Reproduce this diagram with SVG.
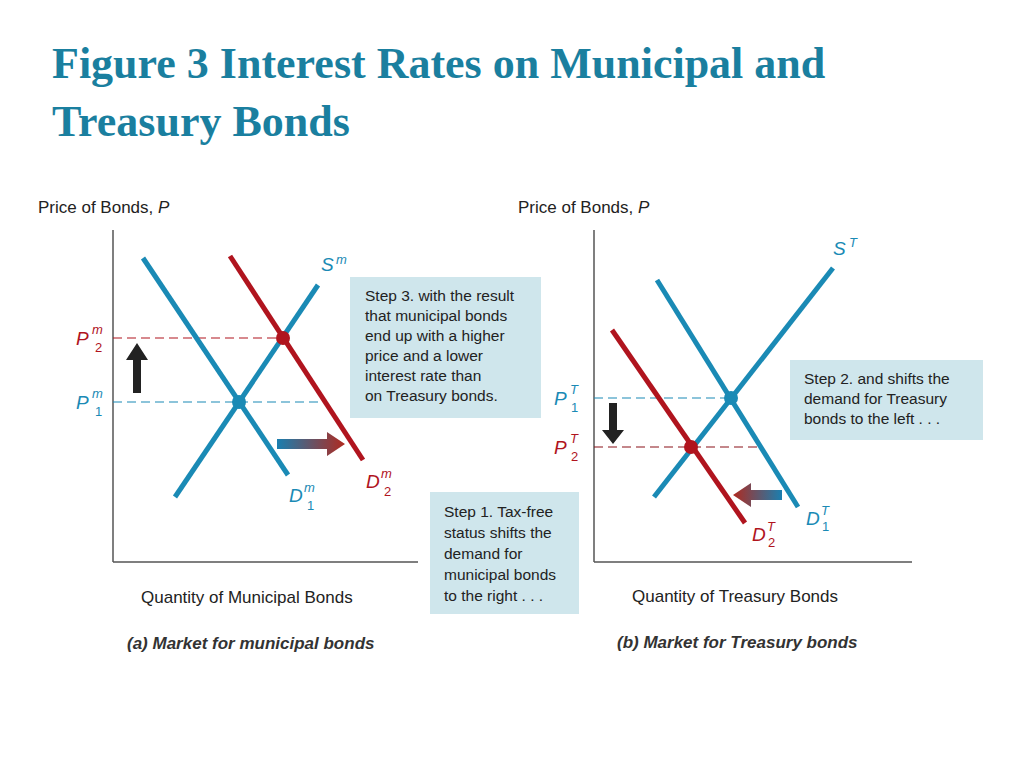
<svg xmlns="http://www.w3.org/2000/svg" width="1024" height="768" viewBox="0 0 1024 768">
<style>
.t{font-family:"Liberation Serif",serif;font-weight:bold;font-size:44px;fill:#1a7f9f}
.s{font-family:"Liberation Sans",Arial,sans-serif;font-size:17px;fill:#222}
.bx{font-family:"Liberation Sans",Arial,sans-serif;font-size:15.5px;fill:#222}
.lb{font-family:"Liberation Sans",Arial,sans-serif;font-style:italic;font-size:19px}
.sub{font-family:"Liberation Sans",Arial,sans-serif;font-size:13px}
.cap{font-family:"Liberation Sans",Arial,sans-serif;font-style:italic;font-weight:bold;font-size:17px;fill:#333}
.bl{stroke:#1a8ab5;stroke-width:5;fill:none}
.rd{stroke:#b0141e;stroke-width:5;fill:none}
.ax{stroke:#555;stroke-width:1.5}
.box{fill:#cfe6ec}
</style>
<defs>
<linearGradient id="gr" x1="0" x2="1"><stop offset="0" stop-color="#1a7fb0"/><stop offset="1" stop-color="#b02a20"/></linearGradient>
<linearGradient id="gl" x1="1" x2="0"><stop offset="0" stop-color="#1a7fb0"/><stop offset="1" stop-color="#b02a20"/></linearGradient>
</defs>
<text class="t" x="52" y="78">Figure 3 Interest Rates on Municipal and</text>
<text class="t" x="52" y="136">Treasury Bonds</text>
<g id="left">
<text class="s" x="38" y="213">Price of Bonds, <tspan font-style="italic">P</tspan></text>
<line class="ax" x1="113" y1="230" x2="113" y2="562"/><line class="ax" x1="113" y1="562" x2="418" y2="562"/>
<line x1="113" y1="338" x2="283" y2="338" stroke="#b0141e" stroke-width="1.2" stroke-dasharray="9,5"/>
<line x1="113" y1="402" x2="322" y2="402" stroke="#1a8ab5" stroke-width="1.2" stroke-dasharray="9,5"/>
<line class="bl" x1="143" y1="258" x2="288" y2="475"/>
<line class="bl" x1="175" y1="497" x2="318" y2="285"/>
<line class="rd" x1="230" y1="256" x2="363" y2="460"/>
<circle cx="283" cy="338" r="7" fill="#b0141e"/><circle cx="239" cy="402" r="7" fill="#1a8ab5"/>
<path d="M133 393V360h-7l11-17 11 17h-7v33z" fill="#222"/>
<path d="M277 439h50v-7l18 12-18 12v-7h-50z" fill="url(#gr)"/>
<text class="lb" x="76" y="345" fill="#b0141e">P</text><text class="sub" x="92" y="334" fill="#b0141e" font-style="italic">m</text><text class="sub" x="95" y="352" fill="#b0141e">2</text>
<text class="lb" x="76" y="409" fill="#1a8ab5">P</text><text class="sub" x="92" y="398" fill="#1a8ab5" font-style="italic">m</text><text class="sub" x="95" y="416" fill="#1a8ab5">1</text>
<text class="lb" x="321" y="271" fill="#1a8ab5">S</text><text class="sub" x="336" y="264" fill="#1a8ab5" font-style="italic">m</text>
<text class="lb" x="289" y="502" fill="#1a8ab5">D</text><text class="sub" x="304" y="492" fill="#1a8ab5" font-style="italic">m</text><text class="sub" x="307" y="510" fill="#1a8ab5">1</text>
<text class="lb" x="366" y="488" fill="#b0141e">D</text><text class="sub" x="381" y="478" fill="#b0141e" font-style="italic">m</text><text class="sub" x="384" y="496" fill="#b0141e">2</text>
<text class="s" x="141" y="603">Quantity of Municipal Bonds</text>
<text class="cap" x="127" y="649">(a) Market for municipal bonds</text>
</g>
<g id="step3"><rect class="box" x="350" y="277" width="191" height="141"/>
<text class="bx" x="365" y="301">Step 3. with the result</text><text class="bx" x="365" y="321">that municipal bonds</text><text class="bx" x="365" y="341">end up with a higher</text><text class="bx" x="365" y="361">price and a lower</text><text class="bx" x="365" y="381">interest rate than</text><text class="bx" x="365" y="401">on Treasury bonds.</text></g>
<g id="step1"><rect class="box" x="430" y="492" width="149" height="122"/>
<text class="bx" x="444" y="517">Step 1. Tax-free</text><text class="bx" x="444" y="538">status shifts the</text><text class="bx" x="444" y="559">demand for</text><text class="bx" x="444" y="580">municipal bonds</text><text class="bx" x="444" y="601">to the right . . .</text></g>
<g id="right">
<text class="s" x="518" y="213">Price of Bonds, <tspan font-style="italic">P</tspan></text>
<line class="ax" x1="594" y1="230" x2="594" y2="562"/><line class="ax" x1="594" y1="562" x2="912" y2="562"/>
<line x1="594" y1="398" x2="731" y2="398" stroke="#1a8ab5" stroke-width="1.2" stroke-dasharray="9,5"/>
<line x1="594" y1="447" x2="760" y2="447" stroke="#8a1018" stroke-width="1.2" stroke-dasharray="9,5"/>
<line class="bl" x1="654" y1="497" x2="833" y2="268"/>
<line class="bl" x1="657" y1="280" x2="798" y2="507"/>
<line class="rd" x1="612" y1="330" x2="745" y2="523"/>
<circle cx="731" cy="398" r="7" fill="#1a8ab5"/><circle cx="691" cy="447" r="7" fill="#b0141e"/>
<path d="M609 403v27h-7l11 14 11-14h-7v-27z" fill="#222"/>
<path d="M782 490h-31v-7l-18 12 18 12v-7h31z" fill="url(#gl)"/>
<text class="lb" x="554" y="405" fill="#1a8ab5">P</text><text class="sub" x="570" y="394" fill="#1a8ab5" font-style="italic">T</text><text class="sub" x="571" y="412" fill="#1a8ab5">1</text>
<text class="lb" x="554" y="454" fill="#b0141e">P</text><text class="sub" x="570" y="443" fill="#b0141e" font-style="italic">T</text><text class="sub" x="571" y="461" fill="#b0141e">2</text>
<text class="lb" x="833" y="255" fill="#1a8ab5">S</text><text class="sub" x="849" y="247" fill="#1a8ab5" font-style="italic">T</text>
<text class="lb" x="806" y="525" fill="#1a8ab5">D</text><text class="sub" x="821" y="515" fill="#1a8ab5" font-style="italic">T</text><text class="sub" x="822" y="531" fill="#1a8ab5">1</text>
<text class="lb" x="752" y="541" fill="#b0141e">D</text><text class="sub" x="767" y="531" fill="#b0141e" font-style="italic">T</text><text class="sub" x="768" y="547" fill="#b0141e">2</text>
<text class="s" x="632" y="602">Quantity of Treasury Bonds</text>
<text class="cap" x="617" y="648">(b) Market for Treasury bonds</text>
</g>
<g id="step2"><rect class="box" x="790" y="360" width="193" height="80"/>
<text class="bx" x="804" y="384">Step 2. and shifts the</text><text class="bx" x="804" y="404">demand for Treasury</text><text class="bx" x="804" y="424">bonds to the left . . .</text></g>
</svg>
